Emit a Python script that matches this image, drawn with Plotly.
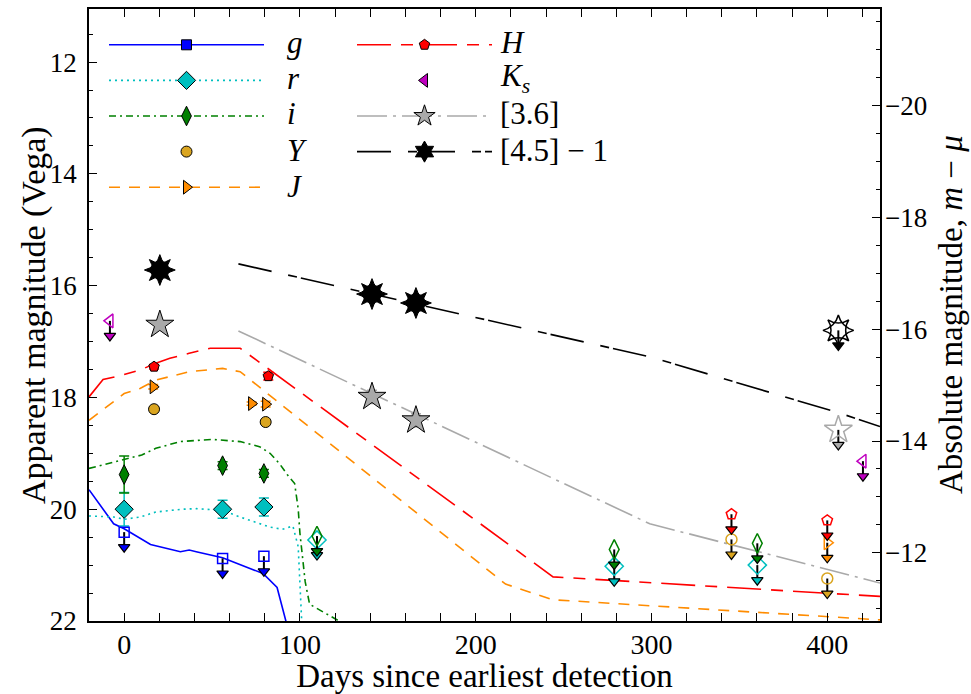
import plotly.graph_objects as go

# ---------------- data ----------------
MU = 32.78  # distance modulus used for the right axis

# model light curves (days, mag)
g_model_days = [-20, -6, 0, 9, 15, 32, 37, 41, 56, 79, 87, 92, 95]
g_model_mag = [19.65, 20.26, 20.35, 20.52, 20.63, 20.76, 20.73, 20.76, 20.87, 21.15, 21.40, 22.0, 22.5]
r_model_days = [-20, -6, 0, 9, 18, 33, 41, 56, 66, 83, 90, 96, 99, 100, 101, 102]
r_model_mag = [20.12, 20.14, 20.18, 20.14, 20.05, 20.0, 19.99, 20.02, 20.14, 20.32, 20.36, 20.30, 20.67, 21.33, 22.0, 22.3]
i_model_days = [-20, -1, 10, 18, 32, 50, 66, 77, 83, 88.5, 93, 97, 99, 100, 103, 105.5, 111, 119, 125]
i_model_mag = [19.27, 19.12, 19.03, 18.91, 18.79, 18.75, 18.79, 18.88, 19.0, 19.19, 19.39, 19.54, 19.99, 20.43, 21.3, 21.70, 21.80, 21.93, 22.05]
J_model_days = [-20, -10, 0, 9, 18, 37, 56, 66, 217, 244, 430]
J_model_mag = [18.41, 18.17, 17.93, 17.84, 17.69, 17.54, 17.48, 17.54, 21.34, 21.62, 21.98]
H_model_days = [-20, -12, -1, 9, 18, 26, 37, 49, 66, 244, 430]
H_model_mag = [17.99, 17.68, 17.60, 17.51, 17.39, 17.30, 17.21, 17.12, 17.12, 21.21, 21.56]
ch1_model_days = [65, 299, 430]
ch1_model_mag = [16.81, 20.26, 21.32]
ch2_model_days = [65, 300, 408, 430]
ch2_model_mag = [15.61, 17.28, 18.29, 18.52]

# detections (days, mag, err)
r_det_days = [0, 56, 79.5]
r_det_mag = [20.0, 20.0, 19.96]
r_det_err = [0.3, 0.16, 0.16]
i_det_days = [0, 56, 79.5]
i_det_mag = [19.38, 19.22, 19.36]
i_det_err = [0.33, 0.07, 0.07]
Y_det_days = [17, 80.5]
Y_det_mag = [18.21, 18.44]
Y_det_err = [0.03, 0.04]
J_det_days = [16.5, 72.5, 80.5]
J_det_mag = [17.81, 18.11, 18.12]
J_det_err = [0.04, 0.03, 0.05]
H_det_days = [17, 82]
H_det_mag = [17.45, 17.62]
H_det_err = [0.04, 0.07]
ch1_det_days = [20.3, 141, 166]
ch1_det_mag = [16.70, 17.99, 18.41]
ch1_det_err = [0.05, 0.12, 0.12]
ch2_det_days = [20.3, 141, 166]
ch2_det_mag = [15.72, 16.15, 16.31]
ch2_det_err = [0.04, 0.06, 0.06]

# upper limits (days, mag)
g_lim_days = [0, 56, 79.5]
g_lim_mag = [20.41, 20.88, 20.84]
r_lim_days = [109.7, 278.8, 360.2]
r_lim_mag = [20.55, 21.02, 21.0]
i_lim_days = [109.7, 278.8, 360.2]
i_lim_mag = [20.48, 20.72, 20.61]
Y_lim_days = [345.5, 400]
Y_lim_mag = [20.54, 21.24]
J_lim_days = [400]
J_lim_mag = [20.60]
H_lim_days = [345.5, 400]
H_lim_mag = [20.09, 20.2]
Ks_lim_days = [-8.1, 420.3]
Ks_lim_mag = [16.63, 19.14]
ch1_lim_days = [406.3]
ch1_lim_mag = [18.58]
ch2_lim_days = [406.3]
ch2_lim_mag = [16.80]

x_range = [-20, 430]
y_range = [22, 11.05]

# ---------------- styles ----------------
FONT = "Liberation Serif"
C = dict(g="#0000ff", r="#00bfbf", i="#008000", Y="#daa520", J="#ff8c00",
         H="#ff0000", Ks="#bf00bf", ch1="#a9a9a9", ch2="#000000")
DASH = dict(g="solid", r="2px,4px", i="7px,4px,2px,4px", J="11px,9px",
            H="34px,10px,12px,10px", ch1="30px,6px,3px,6px", ch2="34px,17px,9px,4px")
SYM = dict(g="square", r="diamond", i="diamond-tall", Y="circle", J="triangle-right",
           H="pentagon", Ks="triangle-left", ch1="star", ch2="star-diamond")
LEG_SYM = dict(SYM, ch2="hexagram")
SIZE = dict(g=10, r=14, i=14, Y=11, J=12, H=11, Ks=12, ch1=21, ch2=22)
ARROW = 0.27

fig = go.Figure()

models = [("g", g_model_days, g_model_mag), ("r", r_model_days, r_model_mag),
          ("i", i_model_days, i_model_mag), ("J", J_model_days, J_model_mag),
          ("H", H_model_days, H_model_mag), ("ch1", ch1_model_days, ch1_model_mag),
          ("ch2", ch2_model_days, ch2_model_mag)]
for b, xs, ys in models:
    fig.add_trace(go.Scatter(x=xs, y=ys, mode="lines", showlegend=False,
                             line=dict(color=C[b], width=1.6, dash=DASH[b]), hoverinfo="skip"))

dets = [("r", r_det_days, r_det_mag, r_det_err), ("i", i_det_days, i_det_mag, i_det_err),
        ("Y", Y_det_days, Y_det_mag, Y_det_err), ("J", J_det_days, J_det_mag, J_det_err),
        ("H", H_det_days, H_det_mag, H_det_err), ("ch1", ch1_det_days, ch1_det_mag, ch1_det_err),
        ("ch2", ch2_det_days, ch2_det_mag, ch2_det_err)]
for b, xs, ys, es in dets:
    fig.add_trace(go.Scatter(x=xs, y=ys, mode="markers", showlegend=False,
                             error_y=dict(type="data", array=es, color=C[b], thickness=1.5, width=5),
                             marker=dict(symbol=SYM[b], size=SIZE[b], color=C[b],
                                         line=dict(color="black", width=1))))
    if b == "ch2":
        fig.add_trace(go.Scatter(x=xs, y=ys, mode="markers", showlegend=False,
                                 marker=dict(symbol="star-square", size=SIZE[b] - 3, color="black",
                                             line=dict(color="black", width=1))))

lims = [("g", g_lim_days, g_lim_mag), ("r", r_lim_days, r_lim_mag), ("i", i_lim_days, i_lim_mag),
        ("Y", Y_lim_days, Y_lim_mag), ("J", J_lim_days, J_lim_mag), ("H", H_lim_days, H_lim_mag),
        ("Ks", Ks_lim_days, Ks_lim_mag), ("ch1", ch1_lim_days, ch1_lim_mag),
        ("ch2", ch2_lim_days, ch2_lim_mag)]
for b, xs, ys in lims:
    sx, sy = [], []
    for d, m in zip(xs, ys):
        sx += [d, d, None]
        sy += [m, m + ARROW, None]
    fig.add_trace(go.Scatter(x=sx, y=sy, mode="lines", showlegend=False,
                             line=dict(color="black", width=2), hoverinfo="skip"))
    fig.add_trace(go.Scatter(x=xs, y=[m + ARROW for m in ys], mode="markers", showlegend=False,
                             marker=dict(symbol="triangle-down", size=10, color=C[b],
                                         line=dict(color="black", width=1.2))))
    if b == "ch2":
        for s, sz in [("star-diamond-open", SIZE[b]), ("star-square-open", SIZE[b] - 3)]:
            fig.add_trace(go.Scatter(x=xs, y=ys, mode="markers", showlegend=False,
                                     marker=dict(symbol=s, size=sz, color="black",
                                                 line=dict(color="black", width=1.5))))
    else:
        fig.add_trace(go.Scatter(x=xs, y=ys, mode="markers", showlegend=False,
                                 marker=dict(symbol=SYM[b] + "-open", size=SIZE[b], color=C[b],
                                             line=dict(color=C[b], width=1.5))))

# legend samples (symbols come from the plotly legend, labels are annotations)
labels = dict(g="<i>g</i>", r="<i>r</i>", i="<i>i</i>", Y="<i>Y</i>", J="<i>J</i>",
              H="<i>H</i>", Ks="<i>K</i><sub><i>s</i></sub>", ch1="[3.6]", ch2="[4.5] − 1")
col1 = ["g", "r", "i", "Y", "J"]
col2 = ["H", "Ks", "ch1", "ch2"]
for leg, bands in [("legend", col1), ("legend2", col2)]:
    for k, b in enumerate(bands):
        has_line = b in DASH
        fig.add_trace(go.Scatter(x=[None], y=[None], name=" ", legend=leg,
                                 legendgroup=b, legendrank=k,
                                 mode="lines+markers" if has_line else "markers",
                                 line=dict(color=C[b], width=1.6, dash=DASH.get(b, "solid")),
                                 marker=dict(symbol=LEG_SYM[b], size=SIZE[b], color=C[b],
                                             line=dict(color="black", width=1))))

# right axis helper trace
fig.add_trace(go.Scatter(x=[None], y=[None], yaxis="y2", showlegend=False))

PL, PR, PT, PB = 89, 880, 9, 621
W, H = 971, 694


def px2paper(x, y):
    return (x - PL) / (PR - PL), (PB - y) / (PB - PT)


row_y = [42, 78, 114, 151, 187]
annots = []
for colx, bands in [(285, col1), (498, col2)]:
    for k, b in enumerate(bands):
        ax, ay = px2paper(colx, row_y[k])
        annots.append(dict(text=labels[b], x=ax, y=ay, xref="paper", yref="paper",
                           xanchor="left", yanchor="middle", showarrow=False,
                           font=dict(family=FONT, size=31, color="black")))

# axis titles for the two y axes (placed as rotated text)
tx, ty = px2paper(34, 315)
annots.append(dict(text="Apparent magnitude (Vega)", x=tx, y=ty, xref="paper", yref="paper",
                   xanchor="center", yanchor="middle", textangle=-90, showarrow=False,
                   font=dict(family=FONT, size=34, color="black")))
tx, ty = px2paper(951, 315)
annots.append(dict(text="Absolute magnitude, <i>m</i> − <i>μ</i>", x=tx, y=ty, xref="paper",
                   yref="paper", xanchor="center", yanchor="middle", textangle=-90,
                   showarrow=False, font=dict(family=FONT, size=33, color="black")))

legfont = dict(family=FONT, size=22, color="black")
lx1, ly = px2paper(104, 24)
lx2, _ = px2paper(352, 24)
fig.update_layout(
    width=W, height=H,
    margin=dict(l=PL, r=W - PR, t=PT, b=H - PB),
    paper_bgcolor="white", plot_bgcolor="white",
    font=dict(family=FONT, size=28, color="black"),
    showlegend=True,
    annotations=annots,
    legend=dict(x=lx1, y=ly, xanchor="left", yanchor="top", font=legfont,
                itemwidth=155, tracegroupgap=4, bgcolor="rgba(0,0,0,0)"),
    legend2=dict(x=lx2, y=ly, xanchor="left", yanchor="top", font=legfont,
                 itemwidth=135, tracegroupgap=4, bgcolor="rgba(0,0,0,0)"),
    xaxis=dict(range=x_range, showgrid=False, zeroline=False, showline=True, linecolor="black",
               linewidth=1.5, mirror="allticks", ticks="inside", ticklen=8, tickcolor="black",
               dtick=100, tick0=0, tickfont=dict(family=FONT, size=28), automargin=False,
               ticklabelstandoff=-2,
               minor=dict(dtick=20, ticks="inside", ticklen=4, tickcolor="black"),
               title=dict(text="Days since earliest detection", font=dict(family=FONT, size=33),
                          standoff=11)),
    yaxis=dict(range=y_range, showgrid=False, zeroline=False, showline=True, linecolor="black",
               linewidth=1.5, mirror=True, ticks="inside", ticklen=8, tickcolor="black",
               dtick=2, tick0=0, tickfont=dict(family=FONT, size=27), automargin=False,
               ticklabelstandoff=5,
               minor=dict(dtick=0.5, ticks="inside", ticklen=4, tickcolor="black")),
    yaxis2=dict(range=[y_range[0] - MU, y_range[1] - MU], overlaying="y", side="right",
                showgrid=False, zeroline=False, showline=False, ticks="inside", ticklen=8,
                tickcolor="black", dtick=2, tick0=0, tickfont=dict(family=FONT, size=27),
                automargin=False, ticklabelstandoff=4,
                minor=dict(dtick=0.5, ticks="inside", ticklen=4, tickcolor="black")),
)

fig.write_html("out.html", config={"displayModeBar": False},
               post_script="document.body.style.margin='0px';")
